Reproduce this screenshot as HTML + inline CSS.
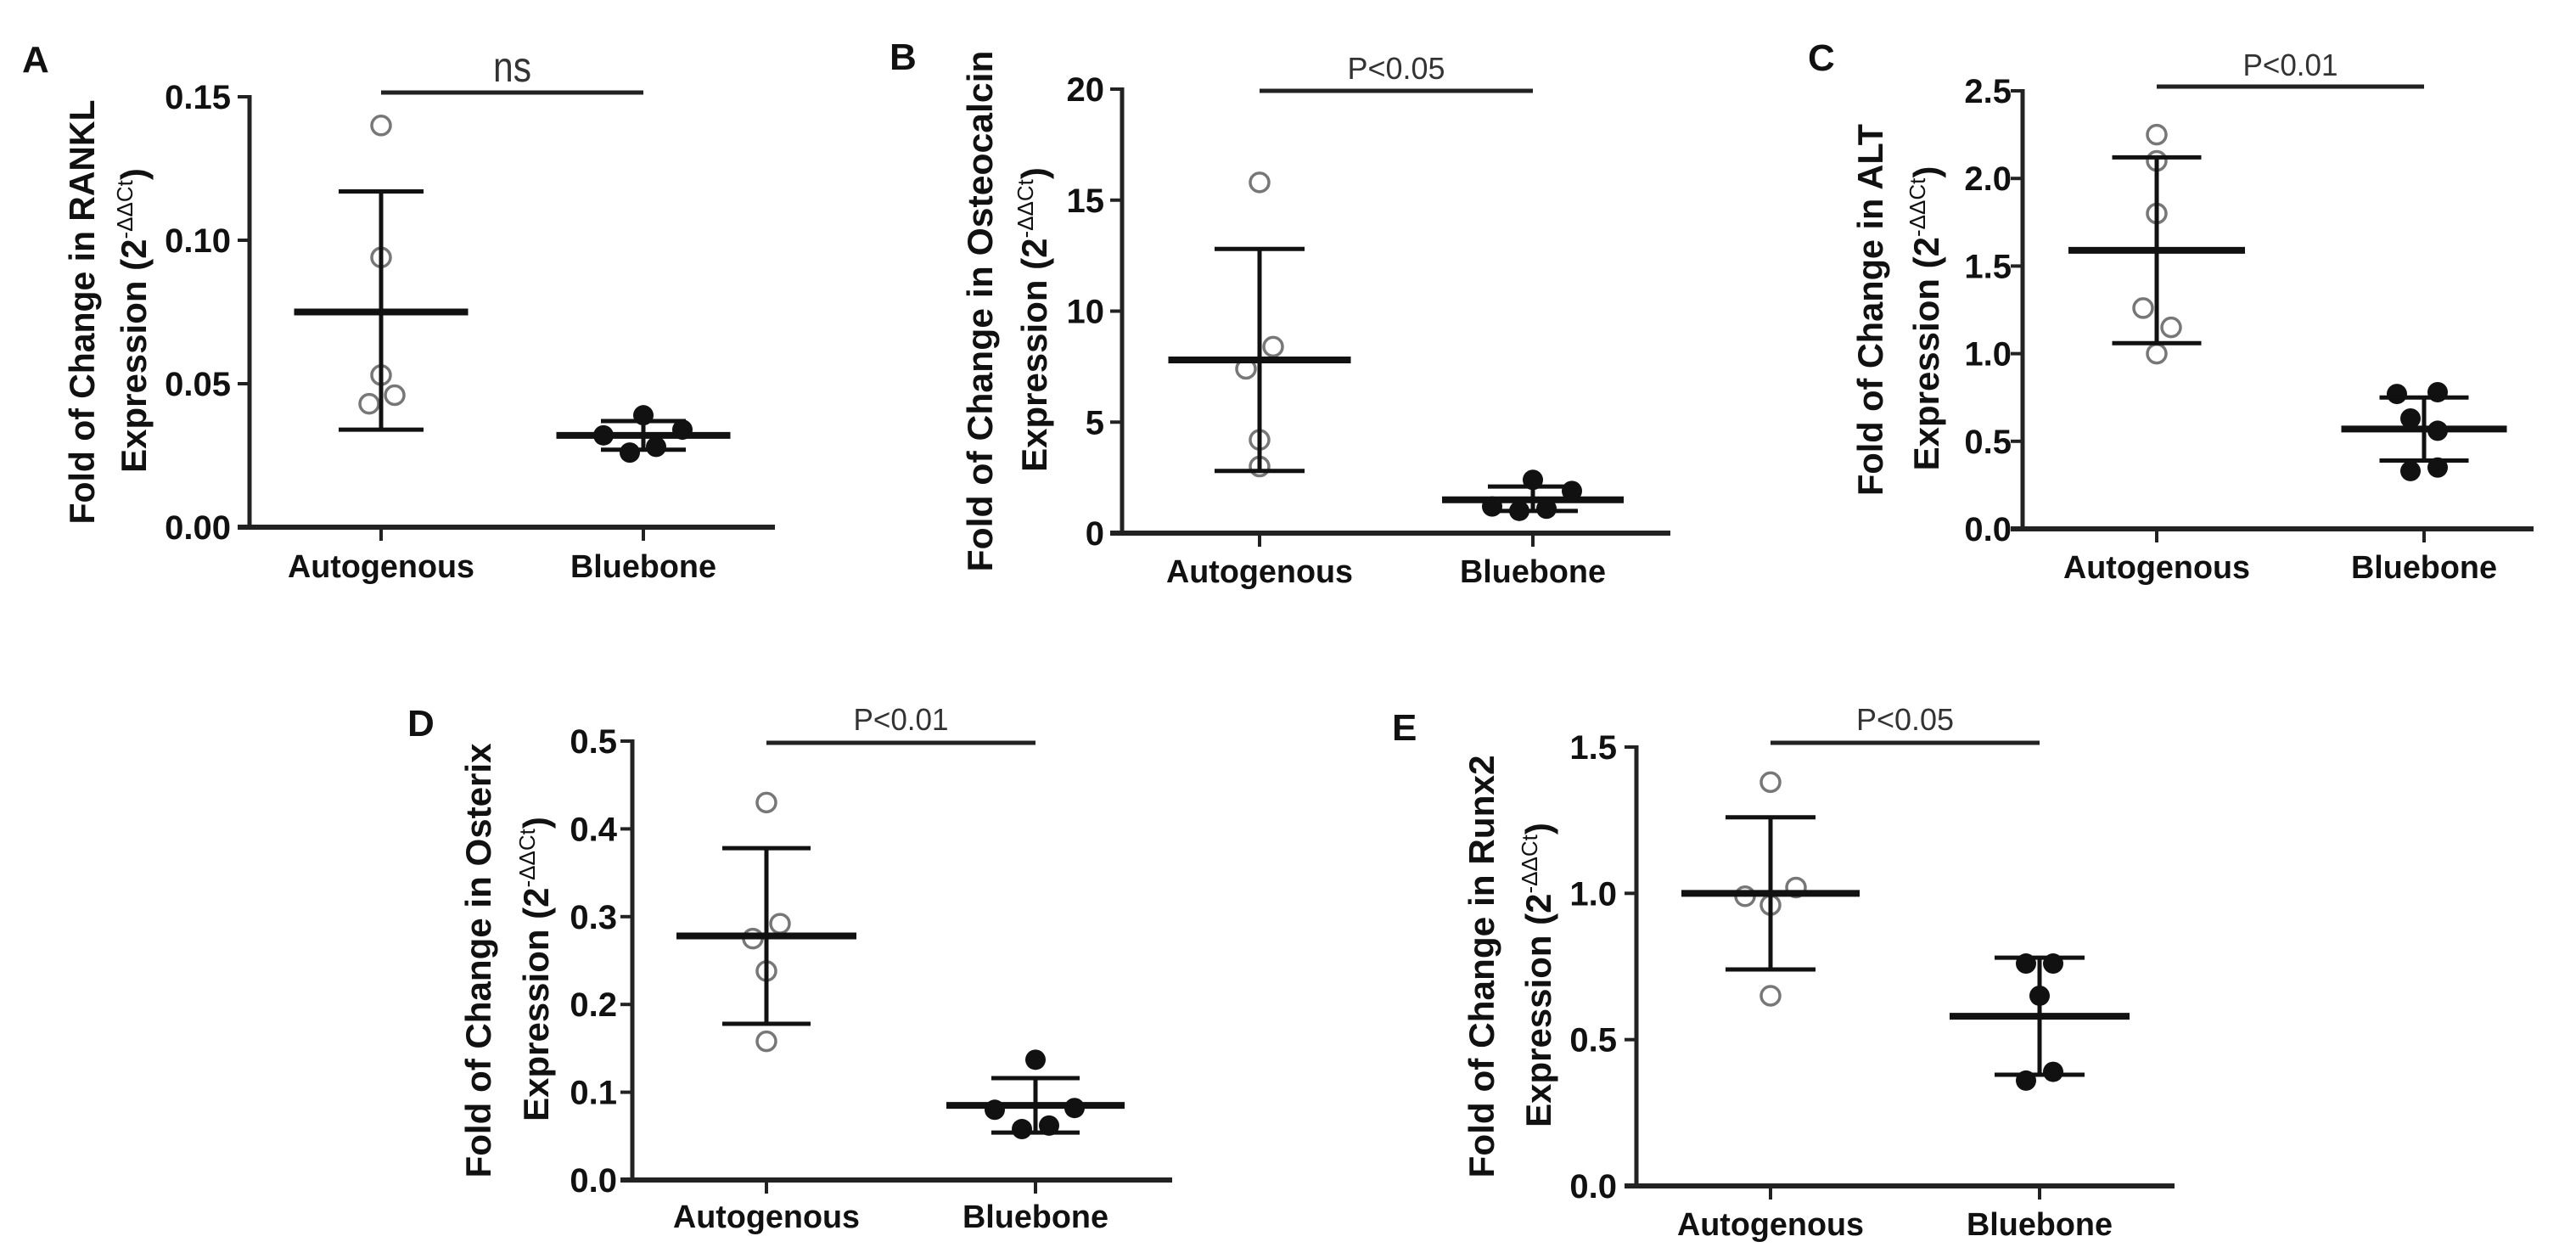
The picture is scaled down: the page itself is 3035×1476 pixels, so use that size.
<!DOCTYPE html>
<html><head><meta charset="utf-8"><style>
html,body{margin:0;padding:0;background:#fff;}
svg{display:block;}
text{font-family:"Liberation Sans",sans-serif;}
</style></head><body>
<svg id="fig" width="3035" height="1476" viewBox="0 0 3035 1476" xmlns="http://www.w3.org/2000/svg"></svg>
<script>
// ---- data ----
const categories = ["Autogenous", "Bluebone"];
const rankTicks = ["0.00","0.05","0.10","0.15"];
const rankAuto = [0.140, 0.094, 0.053, 0.046, 0.043];
const rankBlue = [0.039, 0.032, 0.034, 0.026, 0.028];
const rankAutoStats = [0.075, 0.117, 0.034];
const rankBlueStats = [0.032, 0.037, 0.027];
const ostTicks = ["0","5","10","15","20"];
const ostAuto = [15.8, 8.4, 7.4, 4.2, 3.0];
const ostBlue = [2.4, 1.9, 1.2, 1.0, 1.1];
const ostAutoStats = [7.8, 12.8, 2.8];
const ostBlueStats = [1.5, 2.1, 1.0];
const altTicks = ["0.0","0.5","1.0","1.5","2.0","2.5"];
const altAuto = [2.25, 2.1, 1.8, 1.26, 1.15, 1.0];
const altBlue = [0.77, 0.78, 0.63, 0.56, 0.33, 0.35];
const altAutoStats = [1.59, 2.12, 1.06];
const altBlueStats = [0.57, 0.75, 0.39];
const osxTicks = ["0.0","0.1","0.2","0.3","0.4","0.5"];
const osxAuto = [0.43, 0.292, 0.275, 0.238, 0.158];
const osxBlue = [0.137, 0.080, 0.082, 0.058, 0.062];
const osxAutoStats = [0.278, 0.378, 0.178];
const osxBlueStats = [0.085, 0.116, 0.054];
const runTicks = ["0.0","0.5","1.0","1.5"];
const runAuto = [1.38, 1.02, 0.99, 0.96, 0.65];
const runBlue = [0.76, 0.76, 0.65, 0.36, 0.39];
const runAutoStats = [1.0, 1.26, 0.74];
const runBlueStats = [0.58, 0.78, 0.38];

// ---- layout (not data) ----
const panels = [
 {id:"a",letter:"A",lx:26,ly:85,ax:294,y0:621,yTop:114,yMax:0.15,xEnd:913,cx:[449,758],barY:109,sig:"ns",sigY:96,sigLen:45,sigSize:50,
  t1:"Fold of Change in RANKL",t1x:96,t1len:500,t2x:157,tickR:272,catY:680,
  ticks:rankTicks,auto:rankAuto,blue:rankBlue,aS:rankAutoStats,bS:rankBlueStats,
  aOff:[0,0,0,16,-14],bOff:[0,-47,46,-16,15],meanW:[205,205],capW:100},
 {id:"b",letter:"B",lx:1048,ly:82,ax:1322,y0:628,yTop:105,yMax:20,xEnd:1968,cx:[1484,1806],barY:107,sig:"P<0.05",sigY:93,sigLen:115,sigSize:36,
  t1:"Fold of Change in Osteocalcin",t1x:1154,t1len:614,t2x:1218,tickR:1301,catY:686,
  ticks:ostTicks,auto:ostAuto,blue:ostBlue,aS:ostAutoStats,bS:ostBlueStats,
  aOff:[0,16,-16,0,0],bOff:[0,46,-48,-16,16],meanW:[215,214],capW:106},
 {id:"c",letter:"C",lx:2130,ly:83,ax:2383,y0:623,yTop:107,yMax:2.5,xEnd:2985,cx:[2541,2856],barY:102,sig:"P<0.01",sigY:89,sigLen:112,sigSize:36,
  t1:"Fold of Change in ALT",t1x:2203,t1len:438,t2x:2269,tickR:2370,catY:681,
  ticks:altTicks,auto:altAuto,blue:altBlue,aS:altAutoStats,bS:altBlueStats,
  aOff:[0,0,0,-16,17,0],bOff:[-32,16,-16,16,-16,16],meanW:[208,195],capW:105},
 {id:"d",letter:"D",lx:480,ly:867,ax:745,y0:1390,yTop:873,yMax:0.5,xEnd:1381,cx:[903,1220],barY:875,sig:"P<0.01",sigY:860,sigLen:112,sigSize:36,
  t1:"Fold of Change in Osterix",t1x:563,t1len:512,t2x:631,tickR:727,catY:1446,
  ticks:osxTicks,auto:osxAuto,blue:osxBlue,aS:osxAutoStats,bS:osxBlueStats,
  aOff:[0,16,-16,0,0],bOff:[0,-48,46,-16,16],meanW:[212,210],capW:104},
 {id:"e",letter:"E",lx:1640,ly:872,ax:1928,y0:1397,yTop:880,yMax:1.5,xEnd:2562,cx:[2086,2403],barY:875,sig:"P<0.05",sigY:860,sigLen:115,sigSize:36,
  t1:"Fold of Change in Runx2",t1x:1745,t1len:498,t2x:1812,tickR:1905,catY:1455,
  ticks:runTicks,auto:runAuto,blue:runBlue,aS:runAutoStats,bS:runBlueStats,
  aOff:[0,30,-30,0,0],bOff:[-16,16,0,-16,16],meanW:[210,212],capW:106}
];

const NS="http://www.w3.org/2000/svg";
const svg=document.getElementById("fig");
function mk(tag,attrs,parent){const e=document.createElementNS(NS,tag);for(const k in attrs)e.setAttribute(k,attrs[k]);(parent||svg).appendChild(e);return e;}

panels.forEach(p=>{
  const g=mk("g",{});
  
  
  const yS=v=>p.y0-(v/p.yMax)*(p.y0-p.yTop);
  const nT=p.ticks.length-1;

  const L=mk("text",{x:p.lx,y:p.ly,"font-size":44,"font-weight":"bold",fill:"#111"},g);
  L.textContent=p.letter;
  
  

  // y axis
  const ya=mk("line",{x1:p.ax,y1:p.yTop-2,x2:p.ax,y2:p.y0+3,stroke:"#222","stroke-width":5},g);
  
  
  p.ticks.forEach((t,i)=>{
    const v=p.yMax*i/nT, y=yS(v);
    const tk=mk("line",{x1:p.ax-14,y1:y,x2:p.ax,y2:y,stroke:"#222","stroke-width":4},g);
    
    
    const tl=mk("text",{x:p.tickR,y:y+14,"text-anchor":"end","font-size":40,"font-weight":"bold",fill:"#111","font-stretch":"condensed",style:'font-family:"Liberation Sans Narrow","Liberation Sans",sans-serif'},g);
    tl.textContent=t;
    
    
  });
  // x axis
  const xa=mk("line",{x1:p.ax-14,y1:p.y0,x2:p.xEnd,y2:p.y0,stroke:"#222","stroke-width":6},g);
  
  
  categories.forEach((c,i)=>{
    const tk=mk("line",{x1:p.cx[i],y1:p.y0,x2:p.cx[i],y2:p.y0+16,stroke:"#222","stroke-width":4},g);
    
    
    const tl=mk("text",{x:p.cx[i],y:p.catY,"text-anchor":"middle","font-size":38,"font-weight":"bold",fill:"#111",textLength:i===0?220:172,lengthAdjust:"spacingAndGlyphs"},g);
    tl.textContent=c;
    
    
  });
  // axis titles
  const t1=mk("text",{transform:`translate(${p.t1x+15},${(p.yTop+p.y0)/2}) rotate(-90)`,"text-anchor":"middle","font-size":42,"font-weight":"bold",fill:"#111",textLength:p.t1len,lengthAdjust:"spacingAndGlyphs"},g);
  t1.textContent=p.t1;
  
  
  const t2=mk("text",{transform:`translate(${p.t2x+15},${(p.yTop+p.y0)/2+10}) rotate(-90)`,"text-anchor":"middle","font-size":42,"font-weight":"bold",fill:"#111"},g);
  
  
  const s1=mk("tspan",{},t2); s1.textContent="Expression (2";
  const s2=mk("tspan",{dy:-16,"font-size":26,"font-weight":"normal"},t2); s2.textContent="-\u0394\u0394Ct";
  const s3=mk("tspan",{dy:16},t2); s3.textContent=")";

  // significance
  const sb=mk("line",{x1:p.cx[0],y1:p.barY,x2:p.cx[1],y2:p.barY,stroke:"#222","stroke-width":5},g);
  
  
  const st=mk("text",{x:(p.cx[0]+p.cx[1])/2,y:p.sigY,"text-anchor":"middle","font-size":p.sigSize,fill:"#333",textLength:p.sigLen,lengthAdjust:"spacingAndGlyphs"},g);
  st.textContent=p.sig;
  
  

  // points
  p.auto.forEach((v,i)=>{
    const c=mk("circle",{cx:p.cx[0]+p.aOff[i],cy:yS(v),r:11,fill:"#fff",stroke:"#777","stroke-width":3.5},g);
    
    
  });
  p.blue.forEach((v,i)=>{
    const c=mk("circle",{cx:p.cx[1]+p.bOff[i],cy:yS(v),r:12,fill:"#111"},g);
    
    
  });
  // mean & SD
  [p.aS,p.bS].forEach((s,i)=>{
    const x=p.cx[i];
    const v=mk("line",{x1:x,y1:yS(s[1]),x2:x,y2:yS(s[2]),stroke:"#111","stroke-width":5},g);
    
    
    [s[1],s[2]].forEach(val=>{
      const cp=mk("line",{x1:x-p.capW/2,y1:yS(val),x2:x+p.capW/2,y2:yS(val),stroke:"#111","stroke-width":5},g);
      
      
    });
    const m=mk("line",{x1:x-p.meanW[i]/2,y1:yS(s[0]),x2:x+p.meanW[i]/2,y2:yS(s[0]),stroke:"#111","stroke-width":8},g);
    
    
  });
});
</script>
</body></html>
